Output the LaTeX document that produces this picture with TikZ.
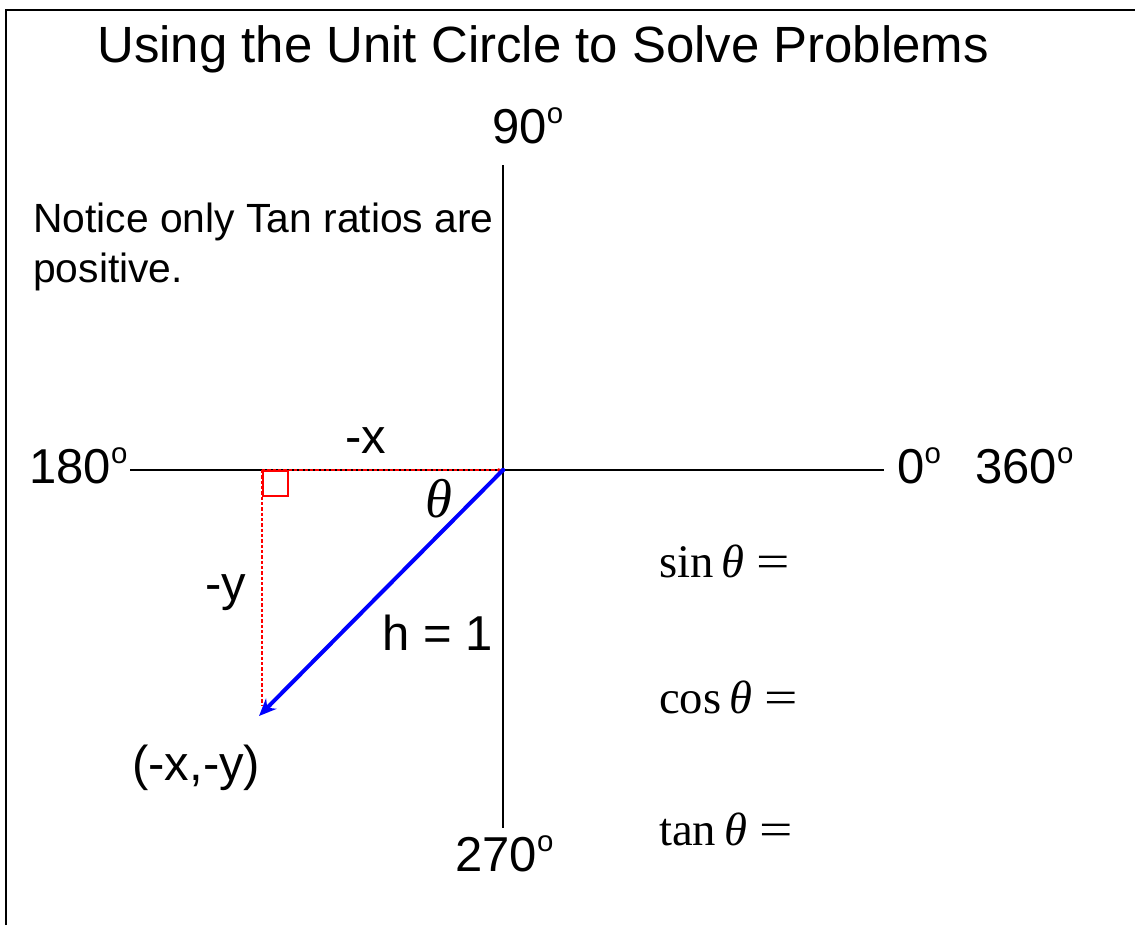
\documentclass[tikz,border=0pt]{standalone}
\usepackage{fontspec}
\usepackage{graphicx}
\setmainfont{Liberation Sans}
\newfontfamily\tnr{Liberation Serif}
\usetikzlibrary{arrows.meta}
\newcommand{\dg}{\raisebox{0.40em}{\scalebox{0.6}{o}}}
\newcommand{\fs}[1]{\fontsize{#1}{#1}\selectfont}
\newcommand{\eqsign}{\hspace{0.26em}\scalebox{1.27}[1]{=}}
\begin{document}
\begin{tikzpicture}[x=0.75pt,y=-0.75pt,
  lbl/.style={inner sep=0pt,anchor=base west,font=\fs{36.75pt}},
  axis/.style={draw=black,line width=0.9pt},
  frameline/.style={draw=black,line width=2pt},
  reddash/.style={draw=red,line width=0.8pt,dash pattern=on 2.5pt off 1.5pt},
  vec/.style={draw=blue,line width=3pt,-{Stealth[length=13pt,width=11pt]}},
  formula/.style={inner sep=0pt,anchor=base west,font=\tnr\fs{35pt}}]
\useasboundingbox (0,0) rectangle (1135,925);
% frame
\coordinate (fbl) at (6,925);
\coordinate (ftl) at (6,10);
\coordinate (ftr) at (1135,10);
\draw[frameline] (fbl) -- (ftl) -- (ftr);
% title
\node[inner sep=0pt,anchor=base west,font=\fs{38.2pt}] (title) at (97,62) {Using the Unit Circle to Solve Problems};
% note
\node[inner sep=0pt,anchor=base west,font=\fs{30.6pt}] (note1) at (33,232) {Notice only Tan ratios are};
\node[inner sep=0pt,anchor=base west,font=\fs{30.6pt}] (note2) at (33,282) {positive.};
% axes
\coordinate (O) at (503,470);
\coordinate (top) at (503,165);
\coordinate (bot) at (503,828);
\coordinate (lft) at (130,470);
\coordinate (rgt) at (884,470);
\draw[axis] (top) -- (bot);
\draw[axis] (lft) -- (rgt);
% angle labels
\node[lbl] (d90) at (492,143) {90\dg};
\node[lbl] (d180) at (29,483) {180\dg};
\node[lbl] (d0) at (897,483) {0\dg};
\node[lbl] (d360) at (975,483) {360\dg};
\node[lbl] (d270) at (455,871) {270\dg};
% triangle
\coordinate (Q) at (262,470);
\coordinate (Qb) at (262,705);
\coordinate (P) at (259,716);
\draw[reddash,-{Stealth[length=4pt,width=3pt]}] (Q) -- (O);
\draw[reddash] (Q) -- (Qb);
\coordinate (sq1) at (263,471);
\coordinate (sq2) at (288,496);
\draw[red,line width=1pt] (sq1) rectangle (sq2);
\draw[vec] (O) -- (P);
\fill[blue] (O) circle (2.2);
% side labels
\node[lbl] (mx) at (345,453) {-x};
\node[lbl] (my) at (205,600) {-y};
\node[lbl] (h) at (382,650) {h = 1};
\node[lbl] (pt) at (132,780) {(-x,-y)};
\node[inner sep=0pt,anchor=base west,font=\tnr\itshape\fs{41pt}] (th) at (425,517) {θ};
% formulas
\node[formula] (sin) at (659,577) {sin\,\textit{θ}\eqsign};
\node[formula] (cos) at (659,713) {cos\,\textit{θ}\eqsign};
\node[formula] (tan) at (659,845) {tan\,\textit{θ}\eqsign};
\end{tikzpicture}
\end{document}
